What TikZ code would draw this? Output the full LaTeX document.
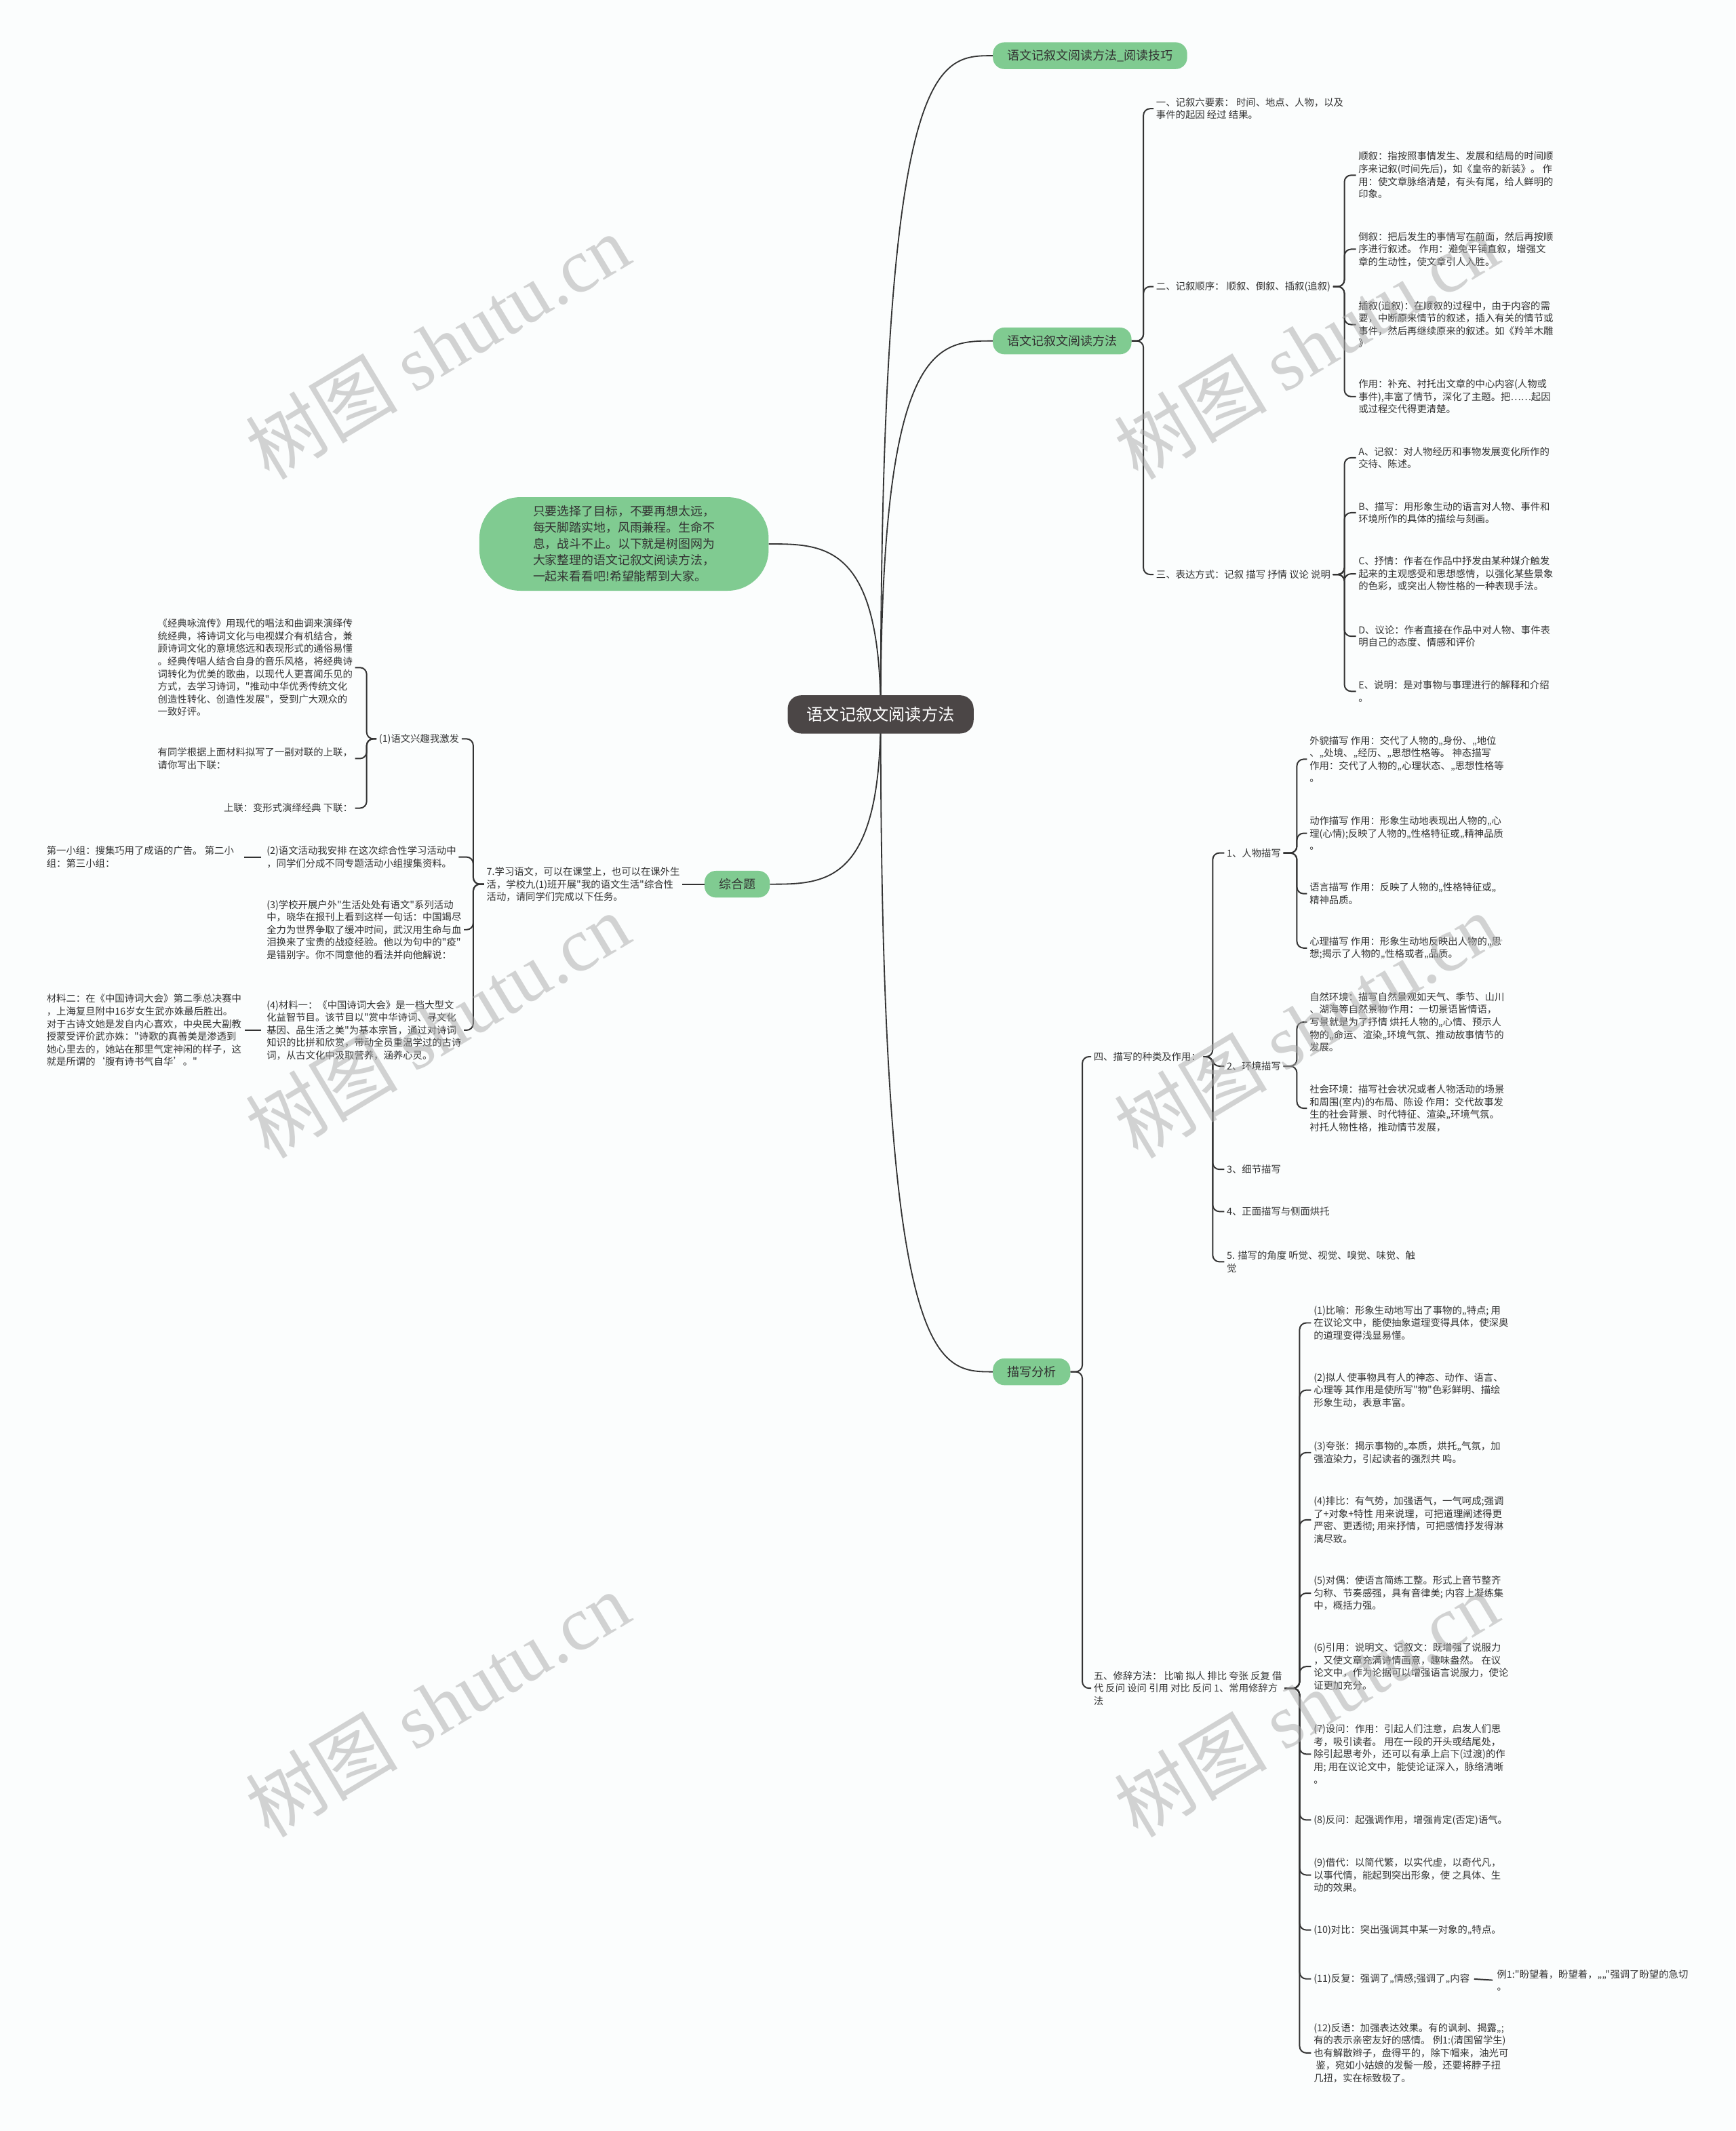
\documentclass[tikz,border=0pt]{standalone}
\usepackage{fontspec}
\setmainfont{Noto Sans CJK SC}[Ligatures=TeXOff]
\newfontfamily\latinserif{Liberation Serif}
\usepackage{tikz}
\usetikzlibrary{positioning,calc}
\usepackage{xcolor}
\definecolor{leafgreen}{HTML}{80CB91}
\definecolor{rootgray}{HTML}{4B4646}
\definecolor{ink}{HTML}{333333}
\definecolor{paper}{HTML}{FBFDFD}
\definecolor{wmgray}{HTML}{A8A8A8}

\begin{document}
\begin{tikzpicture}[x=0.05cm, y=-0.05cm,
  root/.style={fill=rootgray, text=white, rounded corners=14pt, minimum height=40pt, inner xsep=20pt, font=\fontsize{17.2}{20}\selectfont},
  topic/.style={fill=leafgreen, text=ink, rounded corners=12pt, minimum height=28pt, inner xsep=15pt, font=\fontsize{12.8}{16}\selectfont},
  leaf/.style={text=ink, align=left, inner xsep=2.5pt, inner ysep=1pt, font=\fontsize{10.2}{13.2}\selectfont},
  link/.style={draw=ink, line width=1.4pt, rounded corners=7pt},
  branch/.style={draw=ink, line width=1.3pt},
  wmark/.style={text=wmgray, text opacity=0.5, rotate=31, font=\fontsize{80}{80}\selectfont}]
  \fill[paper] (0,0) rectangle (1278,1569);
  \useasboundingbox (0,0) rectangle (1278,1569);

  % first level
  \coordinate (rootc) at (648.5,526);
  \node[topic, anchor=west] (read) at (731,41) {语文记叙文阅读方法\_阅读技巧};
  \node[topic, anchor=west] (method) at (731,251) {语文记叙文阅读方法};
  \node[topic, anchor=west] (describe) at (731,1010) {描写分析};
  \node[topic, anchor=east] (synth) at (567,651) {综合题};
  \node[topic, align=left, rounded corners=43pt, minimum width=303pt, minimum height=98pt, font=\fontsize{12.7}{17}\selectfont] (intro) at (459.5,400.5)
    {只要选择了目标，不要再想太远，\\每天脚踏实地，风雨兼程。生命不\\息，战斗不止。以下就是树图网为\\大家整理的语文记叙文阅读方法，\\一起来看看吧!希望能帮到大家。};
  \foreach \t in {read,method,describe}
    \draw[branch] (rootc) .. controls (rootc |- \t.west) and ($(rootc |- \t.west)!0.5!(\t.west)$) .. (\t.west);
  \foreach \t in {intro,synth}
    \draw[branch] (rootc) .. controls (rootc |- \t.east) and ($(rootc |- \t.east)!0.5!(\t.east)$) .. (\t.east);
  \node[root] (root) at (rootc) {语文记叙文阅读方法};

  % 语文记叙文阅读方法
  \node[leaf, anchor=west] (one) at (849.5,80) {一、记叙六要素： 时间、地点、人物，以及\\事件的起因 经过 结果。};
  \node[leaf, anchor=west] (two) at (849.5,211) {二、记叙顺序： 顺叙、倒叙、插叙(追叙)};
  \node[leaf, anchor=west] (three) at (849.5,423) {三、表达方式：记叙 描写 抒情 议论 说明};
  \node[leaf, anchor=west] (sx) at (998.5,129) {顺叙：指按照事情发生、发展和结局的时间顺\\序来记叙(时间先后)，如《皇帝的新装》。 作\\用：使文章脉络清楚，有头有尾，给人鲜明的\\印象。};
  \node[leaf, anchor=west] (dx) at (998.5,183.5) {倒叙：把后发生的事情写在前面，然后再按顺\\序进行叙述。 作用：避免平铺直叙，增强文\\章的生动性，使文章引人入胜。};
  \node[leaf, anchor=west] (cx) at (998.5,239) {插叙(追叙)：在顺叙的过程中，由于内容的需\\要，中断原来情节的叙述，插入有关的情节或\\事件，然后再继续原来的叙述。如《羚羊木雕\\》};
  \node[leaf, anchor=west] (zy) at (998.5,292) {作用：补充、衬托出文章的中心内容(人物或\\事件),丰富了情节，深化了主题。把……起因\\或过程交代得更清楚。};
  \node[leaf, anchor=west] (ea) at (998.5,337) {A、记叙：对人物经历和事物发展变化所作的\\交待、陈述。};
  \node[leaf, anchor=west] (eb) at (998.5,377.5) {B、描写：用形象生动的语言对人物、事件和\\环境所作的具体的描绘与刻画。};
  \node[leaf, anchor=west] (ec) at (998.5,422.5) {C、抒情：作者在作品中抒发由某种媒介触发\\起来的主观感受和思想感情，以强化某些景象\\的色彩，或突出人物性格的一种表现手法。};
  \node[leaf, anchor=west] (ed) at (998.5,468.5) {D、议论：作者直接在作品中对人物、事件表\\明自己的态度、情感和评价};
  \node[leaf, anchor=west] (ee) at (998.5,509) {E、说明：是对事物与事理进行的解释和介绍\\。};
  \foreach \c in {one,two,three} \draw[link] (method.east) -- (842,251) |- (\c.west);
  \foreach \c in {sx,dx,cx,zy} \draw[link] (two.east) -- (990,211) |- (\c.west);
  \foreach \c in {ea,eb,ec,ed,ee} \draw[link] (three.east) -- (990,423) |- (\c.west);

  % 描写分析
  \node[leaf, anchor=west] (four) at (803.5,778) {四、描写的种类及作用：};
  \node[leaf, anchor=west] (five) at (803.5,1243) {五、修辞方法： 比喻 拟人 排比 夸张 反复 借\\代 反问 设问 引用 对比 反问 1、常用修辞方\\法};
  \node[leaf, anchor=west] (p1) at (901.5,628) {1、人物描写};
  \node[leaf, anchor=west] (p2) at (901.5,785) {2、环境描写};
  \node[leaf, anchor=west] (p3) at (901.5,861) {3、细节描写};
  \node[leaf, anchor=west] (p4) at (901.5,892) {4、正面描写与侧面烘托};
  \node[leaf, anchor=west] (p5) at (901.5,929) {5. 描写的角度 听觉、视觉、嗅觉、味觉、触\\觉};
  \node[leaf, anchor=west] (pa) at (962.5,559) {外貌描写 作用：交代了人物的„身份、„地位\\、„处境、„经历、„思想性格等。 神态描写\\作用：交代了人物的„心理状态、„思想性格等\\。};
  \node[leaf, anchor=west] (pb) at (962.5,613.5) {动作描写 作用：形象生动地表现出人物的„心\\理(心情);反映了人物的„性格特征或„精神品质\\。};
  \node[leaf, anchor=west] (pc) at (962.5,658) {语言描写 作用：反映了人物的„性格特征或„\\精神品质。};
  \node[leaf, anchor=west] (pd) at (962.5,698) {心理描写 作用：形象生动地反映出人物的„思\\想;揭示了人物的„性格或者„品质。};
  \node[leaf, anchor=west] (ena) at (962.5,752.5) {自然环境：描写自然景观如天气、季节、山川\\、湖海等自然景物 作用：一切景语皆情语，\\写景就是为了抒情 烘托人物的„心情、预示人\\物的„命运、渲染„环境气氛、推动故事情节的\\发展。};
  \node[leaf, anchor=west] (enb) at (962.5,816) {社会环境：描写社会状况或者人物活动的场景\\和周围(室内)的布局、陈设 作用：交代故事发\\生的社会背景、时代特征、渲染„环境气氛。\\衬托人物性格，推动情节发展，};
  \node[leaf, anchor=west] (r1) at (965.5,974) {(1)比喻：形象生动地写出了事物的„特点; 用\\在议论文中，能使抽象道理变得具体，使深奥\\的道理变得浅显易懂。};
  \node[leaf, anchor=west] (r2) at (965.5,1023.5) {(2)拟人 使事物具有人的神态、动作、语言、\\心理等 其作用是使所写"物"色彩鲜明、描绘\\形象生动，表意丰富。};
  \node[leaf, anchor=west] (r3) at (965.5,1069.5) {(3)夸张：揭示事物的„本质，烘托„气氛，加\\强渲染力，引起读者的强烈共 鸣。};
  \node[leaf, anchor=west] (r4) at (965.5,1119) {(4)排比：有气势，加强语气，一气呵成;强调\\了+对象+特性 用来说理，可把道理阐述得更\\严密、更透彻; 用来抒情，可把感情抒发得淋\\漓尽致。};
  \node[leaf, anchor=west] (r5) at (965.5,1173) {(5)对偶：使语言简练工整。形式上音节整齐\\匀称、节奏感强，具有音律美; 内容上凝练集\\中，概括力强。};
  \node[leaf, anchor=west] (r6) at (965.5,1227) {(6)引用：说明文、记叙文：既增强了说服力\\，又使文章充满诗情画意，趣味盎然。 在议\\论文中，作为论据可以增强语言说服力，使论\\证更加充分。};
  \node[leaf, anchor=west] (r7) at (965.5,1291.5) {(7)设问：作用：引起人们注意，启发人们思\\考，吸引读者。 用在一段的开头或结尾处，\\除引起思考外，还可以有承上启下(过渡)的作\\用; 用在议论文中，能使论证深入，脉络清晰\\。};
  \node[leaf, anchor=west] (r8) at (965.5,1340) {(8)反问：起强调作用，增强肯定(否定)语气。};
  \node[leaf, anchor=west] (r9) at (965.5,1380.5) {(9)借代：以简代繁，以实代虚，以奇代凡，\\以事代情，能起到突出形象，使 之具体、生\\动的效果。};
  \node[leaf, anchor=west] (r10) at (965.5,1421) {(10)对比：突出强调其中某一对象的„特点。};
  \node[leaf, anchor=west] (r11) at (965.5,1457) {(11)反复：强调了„情感;强调了„内容};
  \node[leaf, anchor=west] (r11e) at (1100.5,1458) {例1:"盼望着，盼望着，„„"强调了盼望的急切\\。};
  \node[leaf, anchor=west] (r12) at (965.5,1511.5) {(12)反语：加强表达效果。有的讽刺、揭露„;\\有的表示亲密友好的感情。 例1:(清国留学生)\\也有解散辫子，盘得平的，除下帽来，油光可\\\ 鉴，宛如小姑娘的发髻一般，还要将脖子扭\\几扭，实在标致极了。};
  \foreach \c in {four,five} \draw[link] (describe.east) -- (797,1010) |- (\c.west);
  \foreach \c in {p1,p2,p3,p4,p5} \draw[link] (four.east) -- (893,778) |- (\c.west);
  \foreach \c in {pa,pb,pc,pd} \draw[link] (p1.east) -- (955,628) |- (\c.west);
  \foreach \c in {ena,enb} \draw[link] (p2.east) -- (955,785) |- (\c.west);
  \foreach \c in {r1,r2,r3,r4,r5,r6,r7,r8,r9,r10,r11,r12} \draw[link] (five.east) -- (957,1243) |- (\c.west);
  \draw[link, shorten <=2pt, shorten >=2pt] (r11.east) -- (r11e.west);

  % 综合题
  \node[leaf, anchor=west] (task) at (356.5,651) {7.学习语文，可以在课堂上，也可以在课外生\\活，学校九(1)班开展"我的语文生活"综合性\\活动，请同学们完成以下任务。};
  \node[leaf, anchor=east] (t1) at (340,544) {(1)语文兴趣我激发};
  \node[leaf, anchor=west] (t2) at (194.5,631) {(2)语文活动我安排 在这次综合性学习活动中\\，同学们分成不同专题活动小组搜集资料。};
  \node[leaf, anchor=west] (t3) at (194.5,684.5) {(3)学校开展户外"生活处处有语文"系列活动\\中，晓华在报刊上看到这样一句话：中国竭尽\\全力为世界争取了缓冲时间，武汉用生命与血\\泪换来了宝贵的战疫经验。他以为句中的"疫"\\是错别字。你不同意他的看法并向他解说：};
  \node[leaf, anchor=west] (t4) at (194.5,758.5) {(4)材料一：《中国诗词大会》是一档大型文\\化益智节目。该节目以"赏中华诗词、寻文化\\基因、品生活之美"为基本宗旨，通过对诗词\\知识的比拼和欣赏，带动全员重温学过的古诗\\词，从古文化中汲取营养，涵养心灵。};
  \node[leaf, anchor=east] (t1a) at (261.5,491.5) {《经典咏流传》用现代的唱法和曲调来演绎传\\统经典，将诗词文化与电视媒介有机结合，兼\\顾诗词文化的意境悠远和表现形式的通俗易懂\\。经典传唱人结合自身的音乐风格，将经典诗\\词转化为优美的歌曲，以现代人更喜闻乐见的\\方式，去学习诗词，"推动中华优秀传统文化\\创造性转化、创造性发展"，受到广大观众的\\一致好评。};
  \node[leaf, anchor=east] (t1b) at (261.5,558.5) {有同学根据上面材料拟写了一副对联的上联，\\请你写出下联：};
  \node[leaf, anchor=east] (t1c) at (261.5,595) {上联：变形式演绎经典 下联：};
  \node[leaf, anchor=west] (t2a) at (32.5,631) {第一小组：搜集巧用了成语的广告。 第二小\\组：第三小组：};
  \node[leaf, anchor=west] (t4a) at (32.5,758.5) {材料二：在《中国诗词大会》第二季总决赛中\\，上海复旦附中16岁女生武亦姝最后胜出。\\对于古诗文她是发自内心喜欢，中央民大副教\\授蒙受评价武亦姝："诗歌的真善美是渗透到\\她心里去的，她站在那里气定神闲的样子，这\\就是所谓的‘腹有诗书气自华’。"};
  \draw[link] (synth.west) -- (task.east);
  \foreach \c in {t1,t2,t3,t4} \draw[link] (task.west) -- (348.5,651) |- (\c.east);
  \foreach \c in {t1a,t1b,t1c} \draw[link] (t1.west) -- (270,544) |- (\c.east);
  \draw[link, shorten <=3pt, shorten >=8pt] (t2.west) -- (t2a.east);
  \draw[link, shorten <=3pt, shorten >=1pt] (t4.west) -- (t4a.east);

  % watermark
  \foreach \wx/\wy in {322/255, 962/255, 322/755, 962/755, 322/1255, 962/1255}
    \node[wmark] at (\wx,\wy) {树图 {\latinserif shutu.cn}};
\end{tikzpicture}
\end{document}
